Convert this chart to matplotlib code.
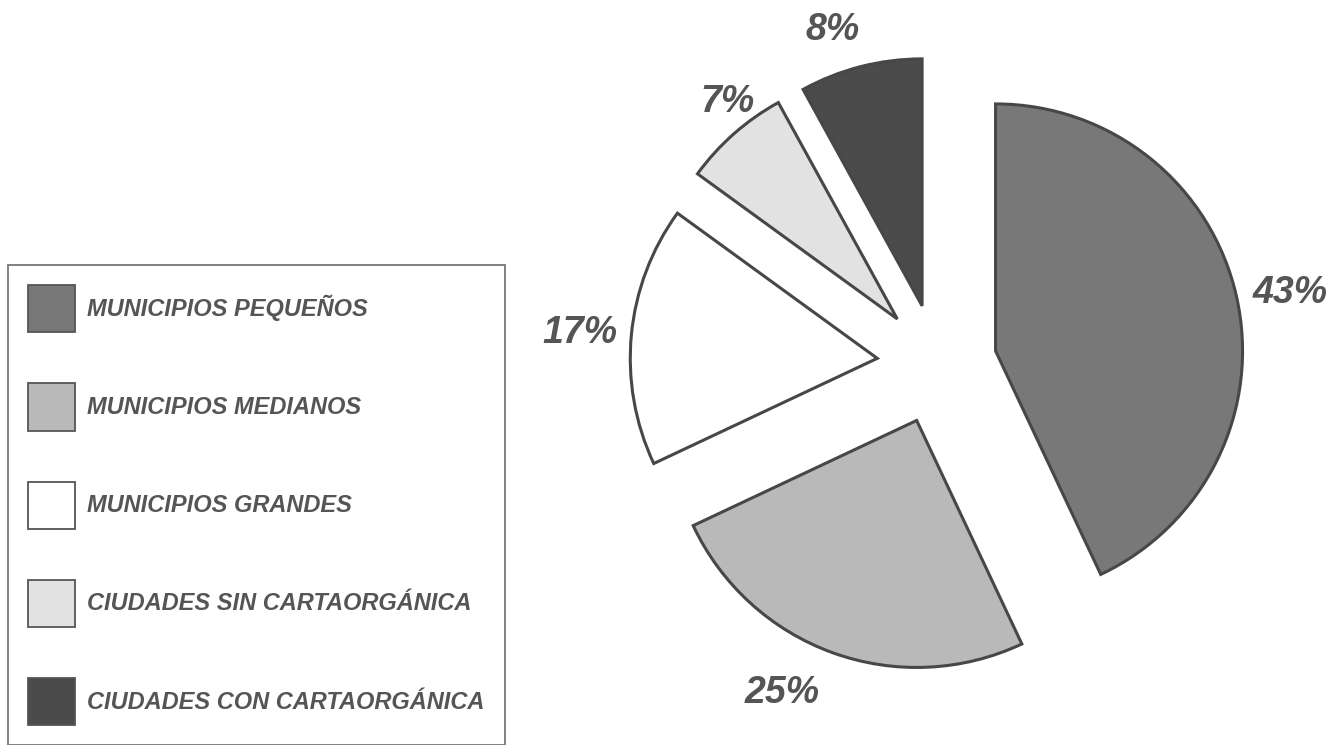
import matplotlib
matplotlib.use("Agg")
import numpy as np
import matplotlib.pyplot as plt
from matplotlib.patches import Patch

# ==========================================
# DATA
# ==========================================
categories = ["MUNICIPIOS PEQUEÑOS", "MUNICIPIOS MEDIANOS", "MUNICIPIOS GRANDES",
              "CIUDADES SIN CARTAORGÁNICA", "CIUDADES CON CARTAORGÁNICA"]
shares = [43, 25, 17, 7, 8]
pct_labels = ["43%", "25%", "17%", "7%", "8%"]

# ==========================================
# STYLE
# ==========================================
colors = ["#787878", "#b9b9b9", "#ffffff", "#e2e2e2", "#4b4b4b"]
EDGE = "#474747"
TEXT = "#555555"
FONT = "Liberation Sans"

# label placement tweaks (radius factor, angle shift in degrees) per slice
label_dist = [1.215, 1.23, 1.21, 1.117, 1.174]
label_shift = [-1.5, -6.5, 0.5, -3.3, 3.5]

W, H = 1330, 745
fig = plt.figure(figsize=(W / 100, H / 100), dpi=100)
ax = fig.add_axes([0, 0, 1, 1])

RADIUS = 247
wedges, _ = ax.pie(
    shares,
    colors=colors,
    startangle=90,
    counterclock=False,
    radius=RADIUS,
    center=(937, H - 364),
    explode=[60] * len(shares),
    wedgeprops=dict(edgecolor=EDGE, linewidth=2.2),
    frame=True,
)
ax.set_xlim(0, W)
ax.set_ylim(0, H)
ax.set_aspect("equal")
ax.axis("off")

# percentage labels, placed off each exploded wedge
for w, lab, fac, sh in zip(wedges, pct_labels, label_dist, label_shift):
    ang = np.deg2rad((w.theta1 + w.theta2) / 2 + sh)
    cx, cy = w.center
    ax.text(cx + fac * RADIUS * np.cos(ang), cy + fac * RADIUS * np.sin(ang), lab,
            ha="center", va="center", fontsize=27, fontweight="bold",
            fontstyle="italic", color=TEXT, family=FONT)

# ==========================================
# LEGEND
# ==========================================
handles = [Patch(facecolor=c, edgecolor="#555555", linewidth=1.3) for c in colors]
leg = fig.legend(
    handles, categories,
    loc="upper left",
    bbox_to_anchor=(8 / W, 1 - 265 / H),
    borderaxespad=0,
    frameon=True,
    fancybox=False,
    shadow=False,
    handlelength=2.0,
    handleheight=2.7,
    handletextpad=0.5,
    labelspacing=2.16,
    borderpad=0.85,
    prop=dict(size=17, weight="bold", style="italic", family=FONT),
    labelcolor=TEXT,
)
leg.get_frame().set_edgecolor("#555555")
leg.get_frame().set_linewidth(1.3)

fig.savefig("out.png", dpi=100, facecolor="white")
